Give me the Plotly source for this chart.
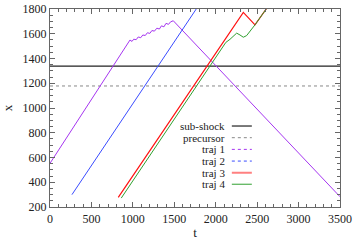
import plotly.graph_objects as go

# ---- data ----
t_range = [0, 3500]
subshock_x = 1339
precursor_x = 1178

traj1_t = [0, 965, 990, 1010, 1040, 1065, 1095, 1120, 1150, 1175, 1205, 1230, 1260, 1290, 1320, 1345, 1375, 1400, 1430, 1455, 1488, 3500]
traj1_x = [553, 1549, 1538, 1556, 1552, 1574, 1568, 1590, 1586, 1608, 1603, 1626, 1621, 1645, 1638, 1664, 1656, 1684, 1676, 1696, 1705, 283]

traj2_t = [265, 1775]
traj2_x = [300, 1810]

traj3_t = [824, 2333, 2474, 2625]
traj3_x = [278, 1773, 1672, 1815]

traj4_t = [860, 2090, 2122, 2172, 2253, 2293, 2333, 2373, 2474, 2625]
traj4_x = [272, 1500, 1530, 1555, 1605, 1590, 1572, 1585, 1672, 1815]

legend_labels = ["sub-shock", "precursor", "traj 1", "traj 2", "traj 3", "traj 4"]

# ---- styles ----
FONT = "Liberation Serif"
styles = [
    dict(color="#222222", width=1.2, dash="solid"),
    dict(color="#888888", width=1, dash="dot"),
    dict(color="#a535f0", width=1, dash="solid"),
    dict(color="#3a4cff", width=1, dash="solid"),
    dict(color="#ff1010", width=1.2, dash="solid"),
    dict(color="#30a030", width=1, dash="solid"),
]
legend_styles = [
    dict(color="#222222", width=1.2, dash="solid"),
    dict(color="#888888", width=1, dash="dot"),
    dict(color="#a535f0", width=1, dash="dot"),
    dict(color="#3a4cff", width=1, dash="dot"),
    dict(color="#ff8080", width=2, dash="solid"),
    dict(color="#30a030", width=1, dash="solid"),
]

fig = go.Figure()
series = [
    (t_range, [subshock_x, subshock_x]),
    (t_range, [precursor_x, precursor_x]),
    (traj1_t, traj1_x),
    (traj2_t, traj2_x),
    (traj3_t, traj3_x),
    (traj4_t, traj4_x),
]
for (tt, xx), st, name in zip(series, styles, legend_labels):
    fig.add_trace(go.Scatter(x=tt, y=xx, mode="lines", line=st, name=name, showlegend=False))

# custom gnuplot-style legend (text left of sample)
row_y = [0.409, 0.350, 0.291, 0.232, 0.173, 0.115]
for lab, ly, st in zip(legend_labels, row_y, legend_styles):
    fig.add_annotation(x=0.609, y=ly, xref="paper", yref="paper", text=lab,
                       showarrow=False, xanchor="right", yanchor="middle",
                       font=dict(family=FONT, size=11, color="#222222"))
    fig.add_shape(type="line", xref="paper", yref="paper", x0=0.627, x1=0.696,
                  y0=ly, y1=ly, line=st)

axis_common = dict(
    showline=True, linecolor="#666666", linewidth=1.2, mirror="ticks",
    ticks="inside", ticklen=5, tickcolor="#666666", showgrid=False, zeroline=False,
    tickfont=dict(family=FONT, size=12, color="#222222"), automargin=False,
)
fig.update_xaxes(range=[0, 3500], dtick=500, tick0=0,
                 minor=dict(dtick=100, ticks="inside", ticklen=3, tickcolor="#666666"),
                 title=dict(text="t", font=dict(family=FONT, size=13, color="#222222"), standoff=3),
                 **axis_common)
fig.update_yaxes(range=[200, 1800], dtick=200, tick0=200,
                 minor=dict(dtick=50, ticks="inside", ticklen=3, tickcolor="#666666"),
                 title=dict(text="x", font=dict(family=FONT, size=13, color="#222222"), standoff=8),
                 **axis_common)

fig.update_layout(
    width=356, height=249,
    margin=dict(l=50, r=16, t=9, b=42),
    paper_bgcolor="white", plot_bgcolor="white",
    showlegend=False,
)
fig.write_html("out.html", config={"displayModeBar": False},
               post_script="document.body.style.margin='0';document.body.style.overflow='hidden';")
